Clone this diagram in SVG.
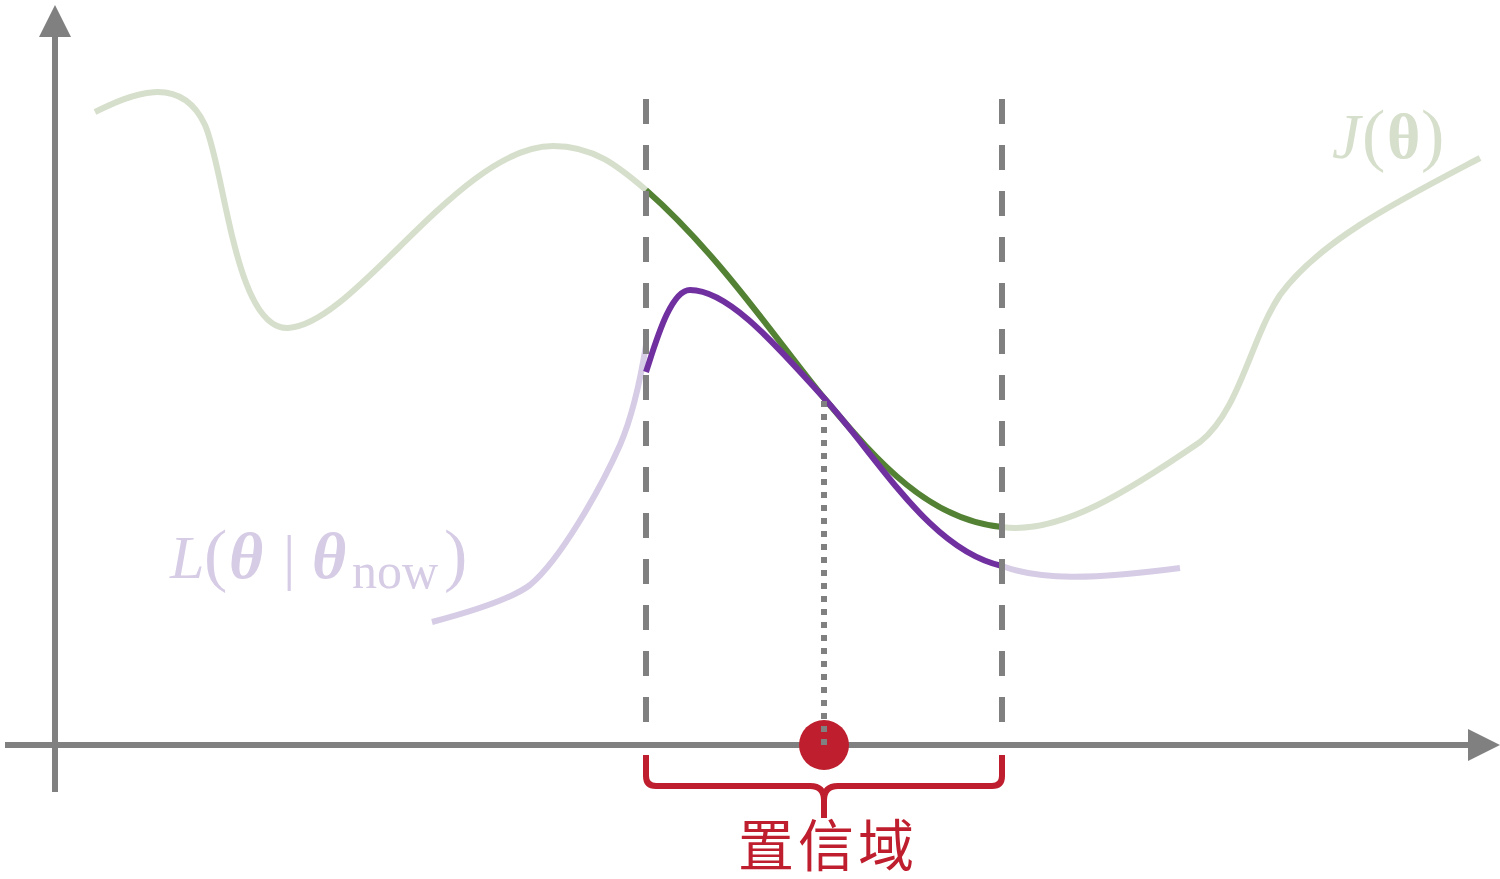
<svg xmlns="http://www.w3.org/2000/svg" width="1500" height="879" viewBox="0 0 1500 879">
<defs>
<style>
.axis{stroke:#808080;stroke-width:6;fill:none}
.head{fill:#808080}
.lg{stroke:#D6DFCB;stroke-width:6;fill:none;stroke-linecap:butt}
.dg{stroke:#548235;stroke-width:6;fill:none}
.lp{stroke:#D6CCE5;stroke-width:6;fill:none}
.dp{stroke:#7030A0;stroke-width:6;fill:none}
.dash{stroke:#808080;stroke-width:6;stroke-dasharray:25 21;fill:none}
.dot{stroke:#808080;stroke-width:6;stroke-dasharray:6 7;fill:none}
.red{stroke:#BE1E2D;stroke-width:6;fill:none}
.math{font-family:"Liberation Serif","DejaVu Serif",serif}
</style>
</defs>
<rect width="1500" height="879" fill="#ffffff"/>
<g id="curves">
<path class="lg" d="M95,112 C130,95 180,72 205,125 C225,170 235,330 288,328 C355,325 460,146 553,146 C595,146 620,168 646,190"/>
<path class="lg" d="M1002,527 C1060,535 1130,490 1200,442 C1240,410 1250,340 1280,295 C1320,240 1400,200 1480,158"/>
<path class="lp" d="M432,622 C470,612 510,600 530,585 C560,560 600,490 620,445 C635,410 642,370 646,345"/>
<path class="lp" d="M1002,566 C1040,580 1090,580 1180,568"/>
<path class="dg" d="M646,190 C720,255 780,345 824,398 C880,465 930,520 1002,527"/>
<path class="dp" d="M646,372 C655,345 670,290 690,290 C730,290 780,350 824,398 C880,460 930,550 1002,566"/>
</g>
<g id="guides">
<line class="dash" x1="646" y1="99" x2="646" y2="745"/>
<line class="dash" x1="1002" y1="99" x2="1002" y2="745"/>
</g>
<g id="axes">
<line class="axis" x1="55" y1="792" x2="55" y2="34"/>
<polygon class="head" points="55,5 39,37 71,37"/>
<line class="axis" x1="5" y1="745" x2="1470" y2="745"/>
<polygon class="head" points="1500,745 1468,729 1468,761"/>
</g>
<g id="point">
<circle cx="824" cy="745" r="25" fill="#BE1E2D"/>
<line class="dot" x1="824" y1="401" x2="824" y2="748"/>
</g>
<g id="brace">
<path class="red" d="M646,755 L646,776 Q646,786 656,786 L810,786 Q824,786 824,800 L824,818 M824,800 Q824,786 838,786 L992,786 Q1002,786 1002,776 L1002,755"/>
<text x="828" y="866" text-anchor="middle" font-family="'Noto Sans CJK SC','Noto Sans CJK JP',sans-serif" font-size="56" letter-spacing="4" fill="#BE1E2D">置信域</text>
</g>
<g id="label-J">
<text class="math" y="158" font-size="64" fill="#D6DFCB"><tspan x="1332" font-style="italic">J</tspan><tspan x="1362" font-size="70">(</tspan><tspan x="1387" font-weight="bold">θ</tspan><tspan x="1421" font-size="70">)</tspan></text>
</g>
<g id="label-L">
<text class="math" y="578" font-size="62" fill="#D6CCE5"><tspan x="170" font-style="italic">L</tspan><tspan x="204" font-size="70">(</tspan><tspan x="229" font-style="italic" font-weight="bold" font-size="66">θ</tspan><tspan x="283">|</tspan><tspan x="312" font-style="italic" font-weight="bold" font-size="66">θ</tspan><tspan x="352" font-size="50" dy="10">now</tspan><tspan x="444" dy="-10" font-size="70">)</tspan></text>
</g>
</svg>
